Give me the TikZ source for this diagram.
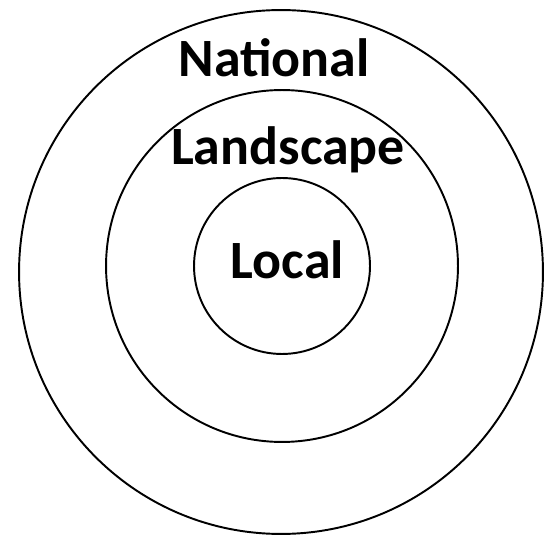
\documentclass[tikz,border=0pt]{standalone}
\usepackage{fontspec}
\setmainfont{Carlito}
\usetikzlibrary{positioning}
\tikzset{
  ring/.style={draw, circle, line width=1.1pt, inner sep=0pt},
  lbl/.style={font=\bfseries\fontsize{30.7}{36}\selectfont, anchor=base, inner sep=0pt},
}
\begin{document}
\begin{tikzpicture}[x=0.02cm, y=-0.02cm]
  \useasboundingbox (0,0) rectangle (547,536);
  \node[ring, minimum size=10.48cm] (outer) at (281,272) {};
  \node[ring, minimum size=7.04cm] (middle) at (282,266) {};
  \node[ring, minimum size=3.52cm] (inner) at (282,266) {};
  \node[lbl] (national) at (274,77) {National};
  \node[lbl] (landscape) at (288,165) {Landscape};
  \node[lbl] (local) at (287.5,279) {Local};
\end{tikzpicture}
\end{document}
